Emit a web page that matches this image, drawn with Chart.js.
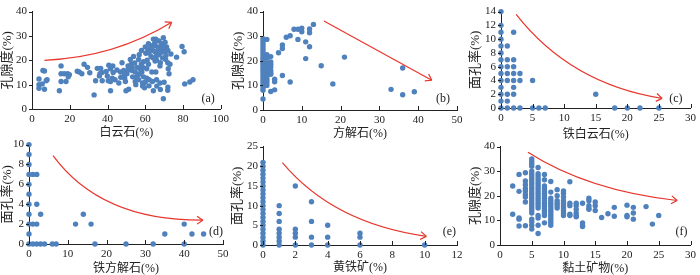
<!DOCTYPE html>
<html>
<head>
<meta charset="utf-8">
<script src="https://cdn.jsdelivr.net/npm/chart.js@4.4.0/dist/chart.umd.min.js"></script>
<style>
  html, body { margin: 0; padding: 0; background: #fff; width: 700px; height: 275px; overflow: hidden; }
  body { position: relative; }
  canvas { position: absolute; }
</style>
</head>
<body>
<script>
/* ===================== DATA ===================== */
// (a) dolomite % vs porosity %  [x, y]
const dolPts = [
  [3.7,12.3],[3.7,10],[3.7,8.5],[5.8,15.8],[6.6,15.6],[6.6,8.1],[7.5,11.6],[5.4,10.3],[8,12],
  [14.5,7.5],[15.4,17.7],[15.4,14.5],[15.4,11.3],[17.1,14.5],[18,11.3],[18.9,14.5],[19.8,14.1],[19.2,13.2],
  [24,15.5],[25,15.2],[26.4,14.5],[27.6,18.4],[29.4,17.1],[30.6,14.9],[32.9,5.8],[33.7,11.6],[34.6,16.7],
  [36.4,16.7],[36,14.5],[35.7,13.6],[37,15],[37.2,11.6],[39.3,15.4],[39.9,13.6],[40.7,18],[41.6,16.5],
  [41.6,11.3],[41.6,7.5],[42.5,12.6],[42.8,17.7],[40.4,11.6],[43,15],[44,12],[45,16],[46,10.7],[46.9,15.2],
  [47,13],[47.7,19],[48.6,15.8],[49,14],[49.1,12.6],[49.5,11.3],[49.8,7.5],[50.3,14.5],[50.9,17.7],[51,16],
  [51.2,8.1],[52.1,20.3],[52.6,18.4],[53,15.8],[53,17],[53.3,13.2],[53.8,21.6],[54.4,18.9],[54.7,15.2],
  [54.7,11.3],[55,10],[55,13],[55.6,17.1],[56.1,13.9],[56.5,20.3],[56.5,12],[56.8,22.3],[57,14.5],
  [57.3,16.5],[57.9,18.4],[58,24],[58.2,15.2],[58.6,10.7],[58.6,9.4],[59,17],[59.1,19.4],[59.1,13.2],
  [59.6,8.7],[60,25.5],[60,11],[60.3,22.9],[60.8,16.5],[60.8,12.6],[61,20],[61.4,24.1],[61.7,26.8],
  [61.7,18.4],[62,23],[62,9.5],[62.1,12],[62.6,24.8],[63,26],[63.1,21.6],[63.5,15.2],[63.8,11.3],
  [64,24],[64,21],[64.3,28.7],[64.3,7.5],[64.9,26.1],[65,27],[65.2,23.5],[65.2,19.7],[65.6,28.7],
  [65.6,15.2],[66,22],[66,20],[66,12],[66.1,9.4],[66.6,25.5],[67,22.3],[67,24],[67.3,27.9],[67.8,17.7],
  [67.8,10.7],[68,23],[68,19],[68,8],[68.4,24.8],[68.7,26.8],[69,26],[69.1,21],[69.6,29.3],[69.6,4.2],
  [70,25],[70,11],[70.1,23.5],[70.5,27.4],[70.8,20.3],[71,22],[71.3,25.5],[71.9,19],[71.9,7.7],[72,24],
  [72,9],[72.2,16.5],[72.6,14.5],[73.1,18.4],[73.6,22.6],[76.6,21.3],[79.5,25.7],[80.6,23.5],[80.9,10.3],
  [83.6,11.1],[85.3,12]
];

// (b)-(f): columns of [x, y values]
const calCols = [
  [0,[4.5,8,9,10,11,12,13,14,15,16,17,18,19,20,21,22,23,24,25,26,27,28,29]],
  [1,[28.7,22.5,21,19,18,17,16,15,14,13,12,11,10]],
  [2,[21.7,19.5,18.5,17.5,16,15,14.5,7.5]],
  [3,[12.5,11.5,8.2]],[4,[23.3]],[5,[26.4,25,14]],[6,[29.6]],[7,[30.2,11.4]],[8,[32.8]],
  [9,[32.8,28.7]],[10,[33.3,31.8]],[11,[27.7,20.9]],[12,[32.9,31.4,25.7]],[13,[34.8]],
  [15,[18]],[18,[10.6]],[21,[21.5]],[33,[8.4]],[36,[17.1,6.2]],[39,[7.4]]
];
const ankCols = [
  [0,[14,12,11,10,9,8,7,6,5,4,3,2,1,0]],
  [1,[9,7,6,5,4,2,1,0]],
  [2,[11,7,6,5,4,3,2,0]],
  [3,[5,4,0]],[5,[4,0]],[6,[0]],[7,[0]],[15,[2]],[18,[0]],[20,[0]],[22,[0]],[25,[0]]
];
const ferCols = [
  [0,[10,9,8,7,6,5,4,3,2,1,0]],
  [1,[7,2,0]],[2,[7,4,2,0]],[3,[3,0]],[4,[0]],[6,[0]],[7,[0]],[12,[2]],[14,[3]],[16,[2]],
  [17,[0]],[25,[0]],[32,[0]],[35,[1]],[40,[2,0]],[42,[1]],[45,[1]]
];
const pyrCols = [
  [0,[0,1,2,3,4,5,6,7,8,9,10,11,12,13,14,15,16,17,18,19,20,21]],
  [1,[10,8,6,4,3,2,1,0]],[2,[15,4,3,2,0]],[3,[11,6,2,0]],[4,[5,2,0]],[6,[3,2,0]],[10,[0]]
];
const clayCols = [
  [2,[24,12.5]],
  [3,[28.7,21.8,11,10.5,7.7]],
  [4,[29.4,26,24.5,23,22,20.5,19.5,17.5,7.8]],
  [5,[35,34,33,32,30,29,28,27,26,25,24,23,22,21,20,19,18,17,16,15,14,13,10.5,9.5,8,6.5]],
  [6,[31.5,29,28,27,26,25,24,23,22,21,20,19,18,17,16,15,12,11,8,4.7]],
  [7,[28.7,26.5,24,23,22,21,20,19,18,17,16,15,14,13,12,9]],
  [8,[25.8,21.5,19,18,17,16,15,14,13,12,11,10,9,8]],
  [9,[22.5,20,18,17,16,15]],
  [10,[22,21,19.5,18,17,16,15,14,13,12]],
  [11,[25.7,17,16,12.5,12]],
  [12,[17,16,14.5,13,12,11.5]],
  [13,[17,9,8,7.5]],
  [14,[19,18,16,15,14.5]],
  [15,[17.5,16,14]],
  [16,[11.2]],[17,[12.7]],[18,[15.3,11.7]],[20,[16.2,12,11.5]],[21,[15.3,13,10.5]],
  [23,[15.6]],[24,[8.5]],[25,[12]]
];

// axis ranges [min, max, step]
const xAxes = [[0,100,20],[0,50,10],[0,30,5],[0,50,10],[0,12,2],[0,30,5]];
const yAxes = [[0,40,10],[0,40,10],[0,14,2],[0,10,2],[0,25,5],[0,40,10]];
const xTitles = ["白云石(%)","方解石(%)","铁白云石(%)","铁方解石(%)","黄铁矿(%)","黏土矿物(%)"];
const yTitles = ["孔隙度(%)","孔隙度(%)","面孔率(%)","面孔率(%)","面孔率(%)","孔隙度(%)"];
const tags = ["(a)","(b)","(c)","(d)","(e)","(f)"];

// trend arrows in data units: [from, control, to]
const arrows = [
  [[6.6,20],[43.7,21.2],[74,35.6]],
  [[15.7,36.2],[29.6,24.15],[43.5,12.1]],
  [[2.4,13.6],[11,3.5],[25.5,1.4]],
  [[6.2,8.9],[18.5,2.35],[44.8,2.4]],
  [[1.2,20.9],[4.35,5.45],[10.1,2.2]],
  [[4.4,37.7],[13.85,22.1],[27.9,18.1]]
];

/* ===================== STYLE ===================== */
const FONT = '"Liberation Serif", "Noto Sans CJK SC", serif';
const INK = "#222";
const DOT = "#4f81bd";
const RED = "#e8352b";

// canvas boxes: left, top, w, h, y-axis width, x-axis height, pad top, pad right, tag dx, tag dy
const boxes = [
  [0,   0,   233, 140, 32, 31, 6, 10, 6, 10],
  [231, 0,   236, 141, 32, 31, 6, 10, 7, 11],
  [468, 0,   232, 142, 33, 34, 10, 7, 8, 9],
  [0,   133, 233, 143, 29, 32, 6, 10, 0, 12],
  [230, 135, 237, 140, 33, 30, 6, 10, 1, 13],
  [468, 135, 232, 141, 32, 31, 6, 7, 3, 13]
];

/* ===================== UTILITIES ===================== */
const flat = cols => cols.flatMap(([x, ys]) => ys.map(y => ({ x, y })));
const pairs = list => list.map(([x, y]) => ({ x, y }));

const series = [pairs(dolPts), flat(calCols), flat(ankCols), flat(ferCols), flat(pyrCols), flat(clayCols)];

/* ===================== PLUGIN: ticks, arrow, tag ===================== */
const decor = {
  id: "decor",
  afterDatasetsDraw(chart, args, o) {
    const { ctx, chartArea: a, scales: { x, y } } = chart;
    ctx.save();
    ctx.strokeStyle = INK;
    ctx.lineWidth = 1;
    ctx.beginPath();
    x.ticks.forEach(t => {
      const p = Math.round(x.getPixelForValue(t.value)) + 0.5;
      ctx.moveTo(p, a.bottom); ctx.lineTo(p, a.bottom - 4);
    });
    y.ticks.forEach(t => {
      const p = Math.round(y.getPixelForValue(t.value)) + 0.5;
      ctx.moveTo(a.left, p); ctx.lineTo(a.left - 3, p);
    });
    ctx.stroke();

    // arrow
    const P = q => [x.getPixelForValue(q[0]), y.getPixelForValue(q[1])];
    const [p0, pc, p2] = o.arrow.map(P);
    ctx.strokeStyle = RED;
    ctx.lineWidth = 1.2;
    ctx.beginPath();
    ctx.moveTo(p0[0], p0[1]);
    ctx.quadraticCurveTo(pc[0], pc[1], p2[0], p2[1]);
    ctx.stroke();
    const ang = Math.atan2(p2[1] - pc[1], p2[0] - pc[0]);
    ctx.beginPath();
    [-0.6, 0.6].forEach(d => {
      ctx.moveTo(p2[0] - 7 * Math.cos(ang + d), p2[1] - 7 * Math.sin(ang + d));
      ctx.lineTo(p2[0], p2[1]);
    });
    ctx.stroke();

    // panel tag
    ctx.fillStyle = INK;
    ctx.font = "12px " + FONT;
    ctx.textAlign = "right";
    ctx.textBaseline = "middle";
    ctx.fillText(o.tag, a.right - o.dx, a.bottom - o.dy);
    ctx.restore();
  }
};

/* ===================== CHARTS ===================== */
Chart.defaults.font.family = FONT;
Chart.defaults.color = INK;

function axis(r, title, size, fit, pad) {
  return {
    type: "linear", min: r[0], max: r[1],
    ticks: { stepSize: r[2], autoSkip: false, maxRotation: 0, padding: pad, color: INK, font: { size: 11 } },
    grid: { display: false, drawTicks: false },
    border: { display: true, color: INK, width: 1 },
    title: { display: true, text: title, color: INK, padding: 0, font: { size } },
    afterFit: fit
  };
}

boxes.forEach((b, i) => {
  const [left, top, w, h, yw, xh, padT, padR, dx, dy] = b;
  const cv = document.createElement("canvas");
  cv.width = w; cv.height = h;
  cv.style.left = left + "px"; cv.style.top = top + "px";
  document.body.appendChild(cv);

  new Chart(cv, {
    type: "scatter",
    data: {
      datasets: [{
        data: series[i],
        pointRadius: 2.7,
        pointBackgroundColor: DOT,
        pointBorderWidth: 0,
        clip: false
      }]
    },
    options: {
      responsive: false,
      animation: false,
      layout: { padding: { top: padT, right: padR, left: 0, bottom: 0 } },
      plugins: {
        legend: { display: false },
        tooltip: { enabled: false },
        decor: { arrow: arrows[i], tag: tags[i], dx, dy }
      },
      scales: {
        x: axis(xAxes[i], xTitles[i], 12, s => { s.height = xh; }, 4),
        y: axis(yAxes[i], yTitles[i], 13, s => { s.width = yw; }, 5)
      }
    },
    plugins: [decor]
  });
});
</script>
</body>
</html>
